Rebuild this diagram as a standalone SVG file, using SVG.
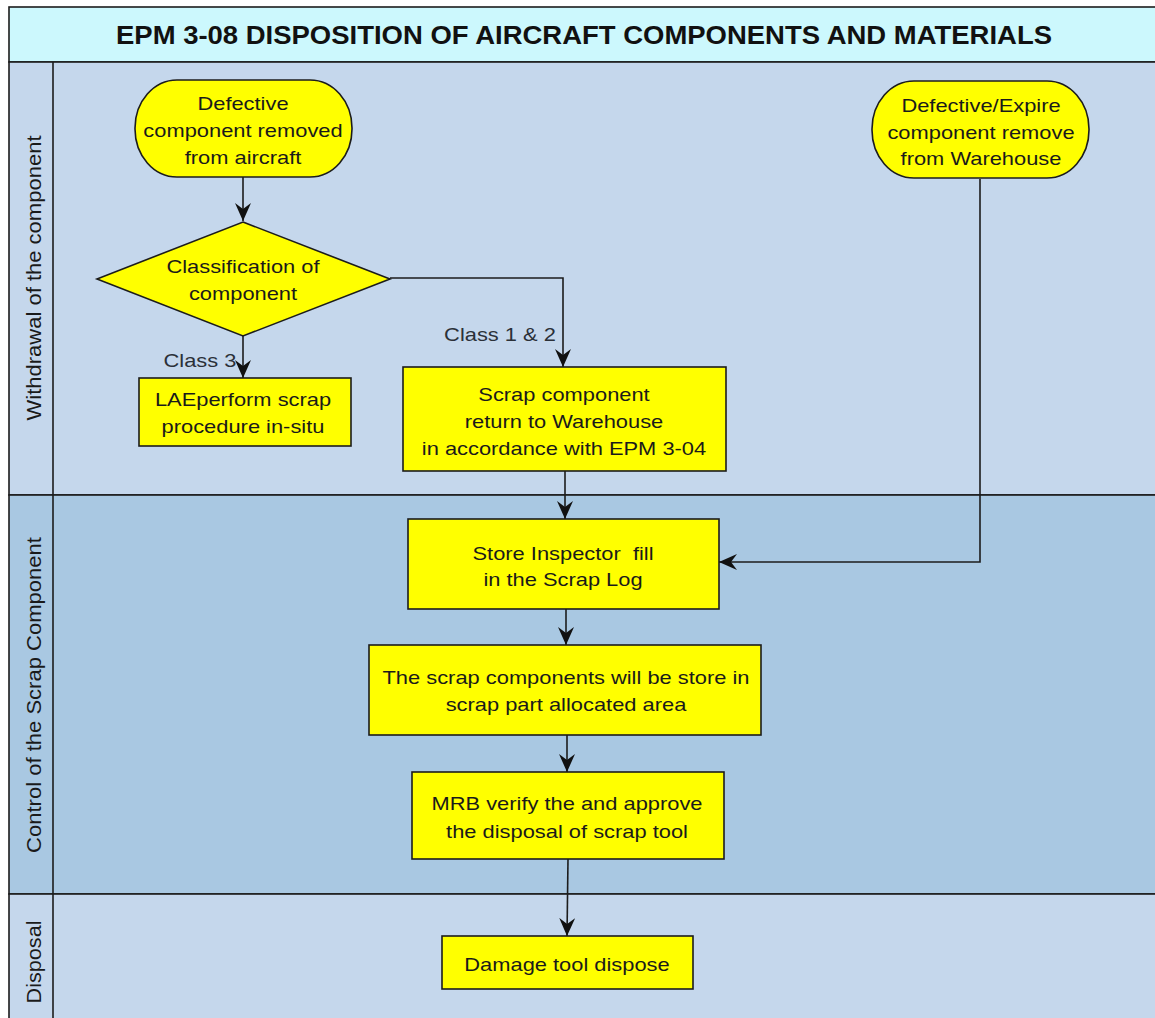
<svg xmlns="http://www.w3.org/2000/svg" width="1155" height="1018" viewBox="0 0 1155 1018">
<style>
.ln{stroke:#1c1c1c;stroke-width:1.6;fill:none}
.nd{fill:#FFFF00;stroke:#1c1c1c;stroke-width:1.6}
.t{font-family:"Liberation Sans",Arial,sans-serif;font-size:17.5px;fill:#1a1a1a;text-anchor:middle}
.lb{font-family:"Liberation Sans",Arial,sans-serif;font-size:17.5px;fill:#2b3038;text-anchor:middle}
.lane{font-family:"Liberation Sans",Arial,sans-serif;font-size:21px;fill:#1a1a1a;text-anchor:middle}
.ttl{font-family:"Liberation Sans",Arial,sans-serif;font-size:25px;font-weight:bold;fill:#111;text-anchor:middle}
</style>
<defs>
<marker id="ar" markerUnits="userSpaceOnUse" markerWidth="18" markerHeight="16" refX="18" refY="8" orient="auto">
<path d="M0,0 L18,8 L0,16 L6,8 z" fill="#111"/>
</marker>
</defs>
<rect width="1155" height="1018" fill="#ffffff"/>
<g id="lanes">
<rect x="9" y="7" width="1160" height="55" fill="#CCF8FD" stroke="#1c1c1c" stroke-width="1.6"/>
<rect x="9" y="62" width="1160" height="433" fill="#C5D7EC" stroke="#1c1c1c" stroke-width="1.6"/>
<rect x="9" y="495" width="1160" height="399" fill="#A9C8E2" stroke="#1c1c1c" stroke-width="1.6"/>
<rect x="9" y="894" width="1160" height="140" fill="#C5D7EC" stroke="#1c1c1c" stroke-width="1.6"/>
<line x1="53" y1="62" x2="53" y2="1018" stroke="#1c1c1c" stroke-width="1.6"/>
<text class="ttl" x="584" y="44" textLength="936" lengthAdjust="spacingAndGlyphs">EPM 3-08 DISPOSITION OF AIRCRAFT COMPONENTS AND MATERIALS</text>
<text class="lane" transform="translate(41,278) rotate(-90)" textLength="285" lengthAdjust="spacingAndGlyphs">Withdrawal of the component</text>
<text class="lane" transform="translate(41,695) rotate(-90)" textLength="316" lengthAdjust="spacingAndGlyphs">Control of the Scrap Component</text>
<text class="lane" transform="translate(41,962) rotate(-90)" textLength="83" lengthAdjust="spacingAndGlyphs">Disposal</text>
</g>
<g id="connectors">
<line class="ln" x1="243" y1="177" x2="243" y2="221" marker-end="url(#ar)"/>
<line class="ln" x1="243" y1="336" x2="243" y2="378" marker-end="url(#ar)"/>
<text class="lb" transform="matrix(1.25 0 0 1 200 0)" x="0" y="367">Class 3</text>
<polyline class="ln" points="390,278 563,278 563,367" marker-end="url(#ar)"/>
<text class="lb" transform="matrix(1.25 0 0 1 500 0)" x="0" y="341">Class 1 &amp; 2</text>
<line class="ln" x1="565" y1="471" x2="565" y2="519" marker-end="url(#ar)"/>
<polyline class="ln" points="980,179 980,562 719,562" marker-end="url(#ar)"/>
<line class="ln" x1="566" y1="609" x2="566" y2="645" marker-end="url(#ar)"/>
<line class="ln" x1="567" y1="735" x2="567" y2="772" marker-end="url(#ar)"/>
<line class="ln" x1="568" y1="859" x2="567" y2="936" marker-end="url(#ar)"/>
</g>
<g id="n_start1">
<rect class="nd" x="135" y="80" width="217" height="97" rx="42" ry="48"/>
<text class="t" transform="matrix(1.25 0 0 1 243 0)"><tspan x="0" y="110">Defective</tspan><tspan x="0" y="137">component removed</tspan><tspan x="0" y="164">from aircraft</tspan></text>
</g>
<g id="n_start2">
<rect class="nd" x="872" y="81" width="217" height="97" rx="42" ry="48"/>
<text class="t" transform="matrix(1.25 0 0 1 981 0)"><tspan x="0" y="112">Defective/Expire</tspan><tspan x="0" y="139">component remove</tspan><tspan x="0" y="165">from Warehouse</tspan></text>
</g>
<g id="n_classify">
<polygon class="nd" points="243,222 390,279 243,336 97,279"/>
<text class="t" transform="matrix(1.25 0 0 1 243 0)"><tspan x="0" y="273">Classification of</tspan><tspan x="0" y="300">component</tspan></text>
</g>
<g id="n_lae">
<rect class="nd" x="139" y="378" width="212" height="68"/>
<text class="t" transform="matrix(1.25 0 0 1 243 0)"><tspan x="0" y="406">LAEperform scrap</tspan><tspan x="0" y="433">procedure in-situ</tspan></text>
</g>
<g id="n_return">
<rect class="nd" x="403" y="367" width="323" height="104"/>
<text class="t" transform="matrix(1.25 0 0 1 564 0)"><tspan x="0" y="401">Scrap component</tspan><tspan x="0" y="428">return to Warehouse</tspan><tspan x="0" y="455">in accordance with EPM 3-04</tspan></text>
</g>
<g id="n_inspector">
<rect class="nd" x="408" y="519" width="311" height="90"/>
<text class="t" transform="matrix(1.25 0 0 1 563 0)" style="white-space:pre"><tspan x="0" y="560">Store Inspector  fill</tspan><tspan x="0" y="586">in the Scrap Log</tspan></text>
</g>
<g id="n_store">
<rect class="nd" x="369" y="645" width="392" height="90"/>
<text class="t" transform="matrix(1.25 0 0 1 566 0)"><tspan x="0" y="684">The scrap components will be store in</tspan><tspan x="0" y="711">scrap part allocated area</tspan></text>
</g>
<g id="n_mrb">
<rect class="nd" x="412" y="772" width="312" height="87"/>
<text class="t" transform="matrix(1.25 0 0 1 567 0)"><tspan x="0" y="810">MRB verify the and approve</tspan><tspan x="0" y="838">the disposal of scrap tool</tspan></text>
</g>
<g id="n_dispose">
<rect class="nd" x="442" y="936" width="251" height="53"/>
<text class="t" transform="matrix(1.25 0 0 1 567 0)"><tspan x="0" y="971">Damage tool dispose</tspan></text>
</g>
</svg>
